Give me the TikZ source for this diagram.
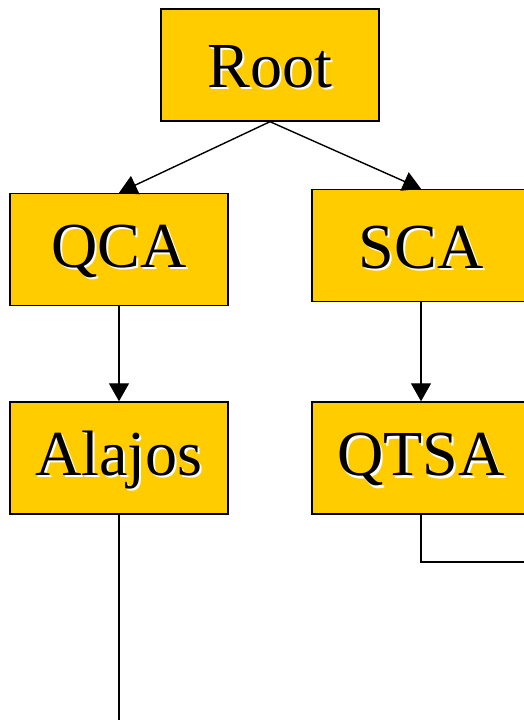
\documentclass[tikz,border=0pt]{standalone}
\usepackage{fontspec}
\setmainfont{Liberation Serif}
\usetikzlibrary{arrows.meta}
\definecolor{boxgold}{RGB}{255,204,0}
\newcommand{\shadowtxt}[1]{\raisebox{-0.06cm}[\height][\depth]{\rlap{\kern1.2pt\raisebox{-1.2pt}{\color{white}#1}}#1}}
\tikzset{
  card/.style={draw=black,line width=0.8pt,fill=boxgold,minimum width=4.36cm,minimum height=2.24cm,
    inner sep=0pt,font=\fontsize{36.5}{40}\selectfont},
  link/.style={line width=0.8pt,-{Triangle[width=0.4cm,length=0.36cm]}}
}
\begin{document}
\begin{tikzpicture}
\useasboundingbox (0,0) rectangle (10.48,14.4);
\node[card] (root) at (5.4,13.1) {\shadowtxt{Root}};
\node[card] (qca) at (2.38,9.41) {\shadowtxt{QCA}};
\node[card] (sca) at (8.42,9.49) {\shadowtxt{SCA}};
\node[card] (alajos) at (2.38,5.24) {\shadowtxt{Alajos}};
\node[card] (qtsa) at (8.42,5.24) {\shadowtxt{QTSA}};
\coordinate (qtsaend) at (10.7,3.16);
\coordinate (alajosend) at (2.38,-0.2);
\draw[link] (root.south) -- (qca.north);
\draw[link] (root.south) -- (sca.north);
\draw[link] (qca.south) -- (alajos.north);
\draw[link] (sca.south) -- (qtsa.north);
\draw[line width=0.8pt] (qtsa.south) |- (qtsaend);
\draw[line width=0.8pt] (alajos.south) -- (alajosend);
\end{tikzpicture}
\end{document}
